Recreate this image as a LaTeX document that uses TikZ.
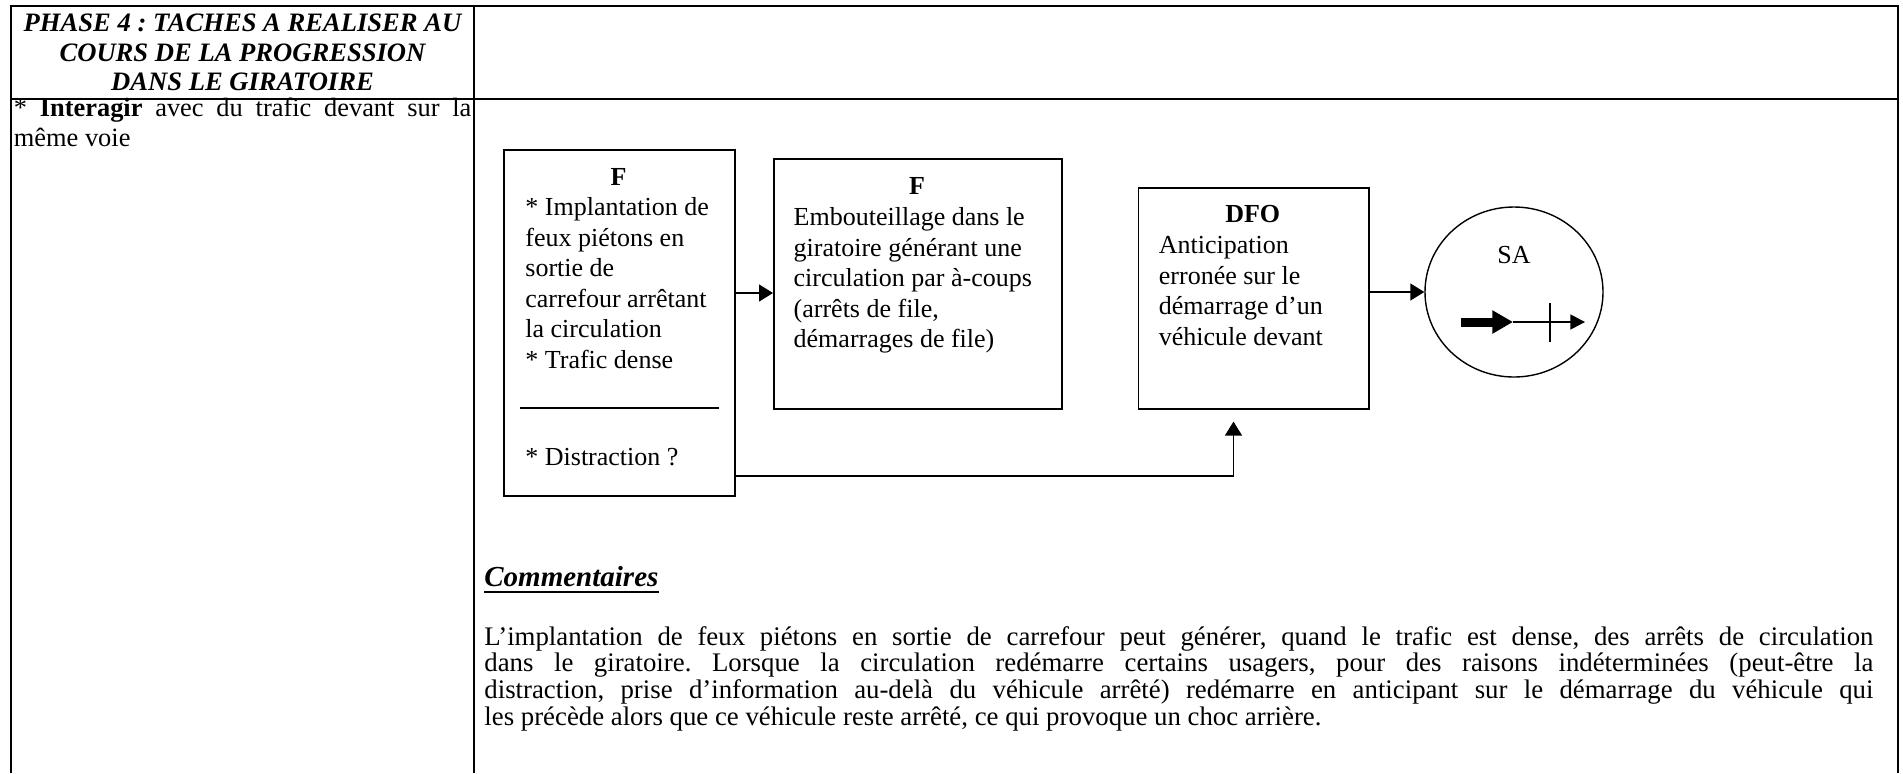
\documentclass[tikz,border=0pt]{standalone}
\usepackage{fontspec}
\setmainfont{Liberation Serif}
\usetikzlibrary{arrows.meta,shapes.geometric}

\tikzset{
  frame/.style={line width=1pt},
  stepbox/.style={draw, line width=0.8pt, inner sep=0pt, anchor=north west},
  conn/.style={line width=0.7pt, -{Triangle[length=7pt,width=8.5pt]}},
  txt/.style={inner sep=0pt, anchor=north west, align=left, font=\fontsize{13}{15.3}\selectfont},
  label/.style={inner sep=0pt, anchor=base, font=\bfseries\fontsize{13}{15.3}\selectfont},
}
% zero-width strut fixing the height of a first line
\newcommand\fstrut{\rule{0pt}{12pt}}
\frenchspacing

\begin{document}
\begin{tikzpicture}[x=0.5pt,y=-0.5pt]
\useasboundingbox (0,0) rectangle (1903,773);

% table rules
\draw[frame] (11,773) -- (11,6) -- (1898,6) -- (1898,773);
\draw[frame] (11,99) -- (1898,99);
\draw[frame] (474,6) -- (474,773);

% left column
\node[inner sep=0pt, anchor=north, align=center,
      font=\bfseries\itshape\fontsize{13.3}{14.6}\selectfont] (phase) at (242.5,7.5)
  {\fstrut PHASE 4 : TACHES A REALISER AU\\COURS DE LA PROGRESSION\\DANS LE GIRATOIRE};
\node[txt, font=\fontsize{13.2}{14.6}\selectfont] (task) at (13.5,92.5)
  {\makebox[228.75pt][s]{\fstrut* \textbf{Interagir} avec du trafic devant sur la}\\même voie};

% boxes
\node[stepbox, minimum width=115.5pt, minimum height=173pt] (box1) at (503,149) {};
\node[stepbox, minimum width=144pt, minimum height=125pt] (box2) at (773,158) {};
\node[stepbox, minimum width=115.25pt, minimum height=110.5pt] (box3) at (1137.5,187) {};
\node[draw, ellipse, line width=0.7pt, minimum width=89pt, minimum height=85pt,
      inner sep=0pt] (ell) at (1514,292) {};

% box 1
\node[label] (f1) at (618.5,185) {F};
\node[txt] (t1) at (525,191)
  {\fstrut* Implantation de\\feux piétons en\\sortie de\\carrefour arrêtant\\la circulation\\* Trafic dense};
\draw[line width=0.8pt] (520,408) -- (719,408);
\node[txt, anchor=base west] (t1b) at (525,465) {* Distraction ?};

% box 2
\node[label] (f2) at (917,194) {F};
\node[txt] (t2) at (793.3,201)
  {\fstrut Embouteillage dans le\\giratoire générant une\\circulation par à-coups\\(arrêts de file,\\démarrages de file)};

% box 3
\node[label] (dfo) at (1252.75,222.7) {DFO};
\node[txt] (t3) at (1158.5,229.3)
  {\fstrut Anticipation\\erronée sur le\\démarrage d’un\\véhicule devant};

% ellipse content
\node[txt, anchor=base] (sa) at (1514,263.3) {SA};
\coordinate (m0) at (1461,322);
\coordinate (m1) at (1513,322);
\coordinate (m2) at (1585,322);
\draw[line width=4.5pt, -{Triangle[length=10.3pt,width=11pt]}] (m0) -- (m1);
\draw[line width=0.7pt, -{Triangle[length=7.3pt,width=7.5pt]}] (m1) -- (m2);
\draw[line width=0.7pt] (1550,303) -- (1550,342);

% connectors
\coordinate (r1) at (734,293);
\draw[conn] (box1.east |- r1) -- (box2.west |- r1);
\draw[conn] (box3.east |- ell.west) -- (ell.west);
\coordinate (fb) at (1233.5,476);
\draw[conn, shorten >=6pt] (box1.east |- fb) -| (box3.south -| fb);

% comments
\node[inner sep=0pt, anchor=base west, font=\bfseries\itshape\fontsize{14.5}{16}\selectfont]
  (com) at (484,586) {Commentaires};
\draw[line width=1pt] ([yshift=-3pt]com.base west) -- ([yshift=-3pt]com.base east);
\node[txt, font=\fontsize{13.4}{13.35}\selectfont] (para) at (484,620.7)
  {\makebox[694.5pt][s]{\fstrut L’implantation de feux piétons en sortie de carrefour peut générer, quand le trafic est dense, des arrêts de circulation}\\
   \makebox[694.5pt][s]{dans le giratoire. Lorsque la circulation redémarre certains usagers, pour des raisons indéterminées (peut-être la}\\
   \makebox[694.5pt][s]{distraction, prise d’information au-delà du véhicule arrêté) redémarre en anticipant sur le démarrage du véhicule qui}\\
   les précède alors que ce véhicule reste arrêté, ce qui provoque un choc arrière.};
\end{tikzpicture}
\end{document}
